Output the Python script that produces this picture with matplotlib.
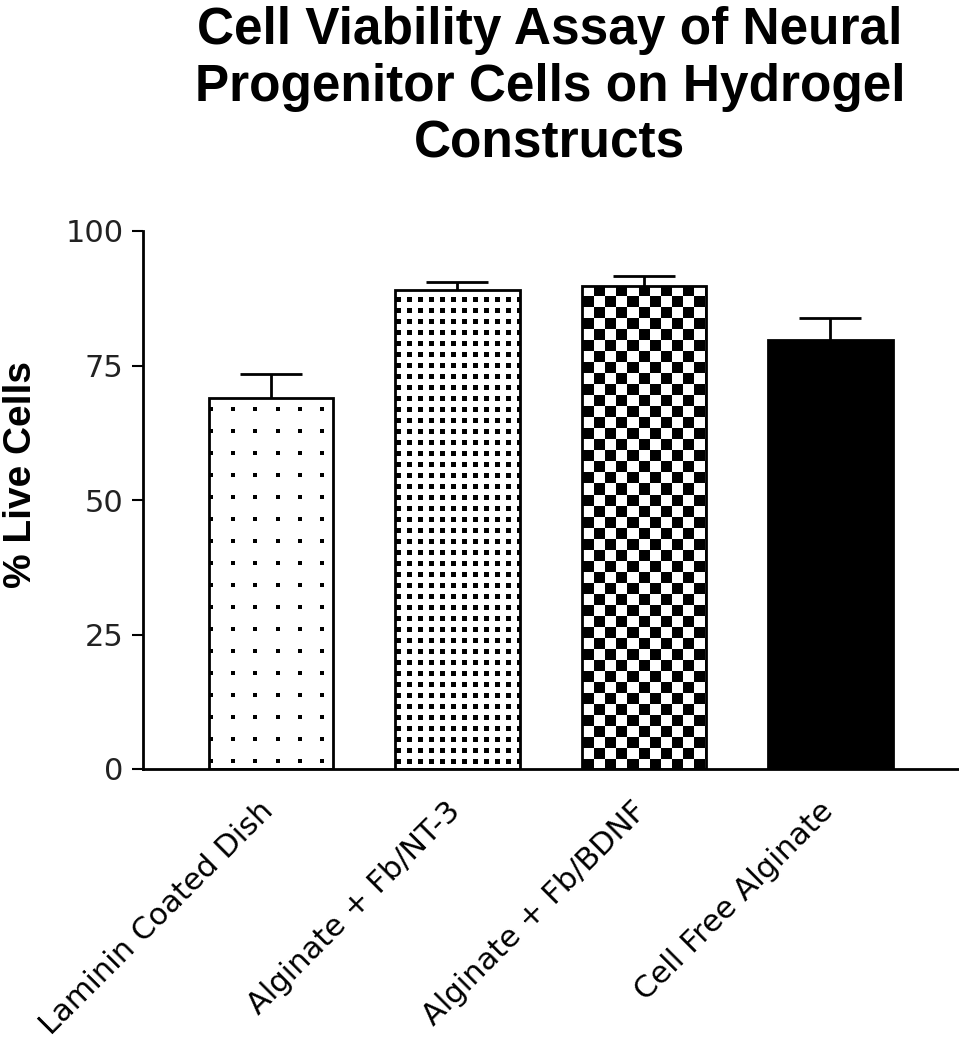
import numpy as np
import matplotlib.pyplot as plt
from matplotlib.transforms import ScaledTranslation

groups = ["Laminin Coated Dish", "Alginate + Fb/NT-3", "Alginate + Fb/BDNF", "Cell Free Alginate"]
live_pct = [68.9, 89.0, 89.8, 79.8]
sem = [4.5, 1.6, 1.9, 4.1]
yticks = [0, 25, 50, 75, 100]

W_PX, H_PX = 959, 1050
fig = plt.figure(figsize=(W_PX / 100, H_PX / 100), dpi=100)
ax_l, ax_r, ax_t, ax_b = 143, 958, 231, 769
ax = fig.add_axes([ax_l / W_PX, 1 - ax_b / H_PX, (ax_r - ax_l) / W_PX, (ax_b - ax_t) / H_PX])

x = np.arange(len(groups))
width = 0.667
xlim = (-0.686, 3.684)

# error bars behind the bars so only the upper half shows
ax.errorbar(x, live_pct, yerr=sem, fmt="none", ecolor="black", elinewidth=2,
            capsize=22, capthick=2, zorder=1)
bars = ax.bar(x, live_pct, width, color="white", edgecolor="none", zorder=2)

# bar fill textures, built in axes pixels
H, W = ax_b - ax_t, ax_r - ax_l
r, c = np.indices((H, W))
patterns = [
    ((r % 22) < 4) & ((c % 22) < 4),
    ((r % 11) < 5) & ((c % 11) < 5),
    ((r // 11 + c // 11) % 2) == 0,
    np.ones((H, W), dtype=bool),
]
for bar, pat in zip(bars, patterns):
    im = ax.imshow(pat.astype(float), cmap="gray_r", vmin=0, vmax=1,
                   extent=[xlim[0], xlim[1], 0, 100], aspect="auto",
                   interpolation="nearest", zorder=2.5)
    im.set_clip_path(bar)

ax.bar(x, live_pct, width, fill=False, edgecolor="black", linewidth=2, zorder=3)

ax.set_xlim(*xlim)
ax.set_ylim(0, 100)
ax.set_yticks(yticks)
ax.set_yticklabels([str(t) for t in yticks], fontsize=22, family="DejaVu Sans", color="#222222")
ax.set_xticks(x)
ax.set_xticklabels([])
ax.tick_params(axis="y", length=8, width=1.5, pad=6)
ax.tick_params(axis="x", length=0)

# rotated category labels, ending just under each bar centre
shift = ScaledTranslation(-12 / 100, -27 / 100, fig.dpi_scale_trans)
for xi, name in zip(x, groups):
    ax.text(xi, 0, name, transform=ax.get_xaxis_transform() + shift,
            fontsize=22, family="DejaVu Sans", rotation=45,
            ha="right", va="top", rotation_mode="anchor")

for side in ["top", "right"]:
    ax.spines[side].set_visible(False)
for side in ["left", "bottom"]:
    ax.spines[side].set_linewidth(2)

fig.text(550 / W_PX, 1 - 6 / H_PX,
         "Cell Viability Assay of Neural\nProgenitor Cells on Hydrogel\nConstructs",
         ha="center", va="top", fontsize=37, fontweight="bold",
         family="Liberation Sans", linespacing=1.21)
fig.text(21 / W_PX, 1 - 475 / H_PX, "% Live Cells", rotation=90, ha="center", va="center",
         fontsize=28, fontweight="bold", family="Liberation Sans")

fig.savefig("out.png", dpi=100)
